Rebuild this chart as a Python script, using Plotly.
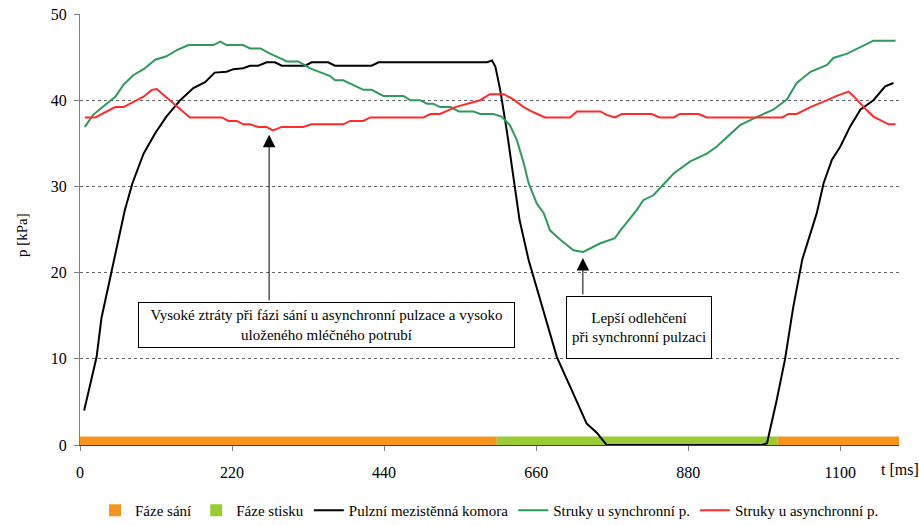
import plotly.graph_objects as go

# ---------------- data ----------------
t_black = [6, 17, 24, 31, 39, 48, 65, 76, 92, 109, 125, 145, 164, 181, 195, 212, 222, 236, 246, 258,
           270, 282, 292, 326, 335, 359, 369, 422, 432, 589, 596, 601, 608, 618, 627, 636, 649, 666,
           690, 709, 733, 748, 762, 987, 994, 1008, 1020, 1032, 1045, 1066, 1076, 1088, 1100, 1114,
           1129, 1148, 1165, 1177]
p_black = [4.0, 7.9, 10.2, 14.7, 17.6, 21.1, 27.3, 30.4, 33.8, 36.2, 38.1, 40.0, 41.4, 42.1, 43.2, 43.3,
           43.6, 43.7, 44.0, 44.0, 44.4, 44.4, 44.0, 44.0, 44.4, 44.4, 44.0, 44.0, 44.4, 44.4, 44.6, 43.9,
           41.2, 36.2, 31.1, 26.1, 21.5, 16.8, 10.2, 6.8, 2.5, 1.4, 0.0, 0.0, 0.2, 5.2, 9.9, 16.0, 21.5,
           26.9, 30.4, 33.1, 34.6, 36.9, 38.9, 40.0, 41.6, 42.0]

t_sync = [7, 19, 34, 51, 63, 77, 92, 109, 125, 140, 157, 193, 203, 212, 236, 246, 261, 275, 294, 299,
          316, 333, 362, 369, 381, 410, 422, 439, 468, 478, 492, 502, 511, 521, 536, 548, 569, 579,
          598, 610, 622, 632, 642, 649, 661, 671, 680, 695, 714, 728, 753, 774, 782, 806, 815, 830,
          859, 883, 907, 921, 955, 975, 1003, 1023, 1037, 1057, 1081, 1090, 1110, 1148, 1180]
p_sync = [36.9, 38.3, 39.3, 40.4, 41.8, 42.9, 43.6, 44.7, 45.1, 45.8, 46.4, 46.4, 46.8, 46.4, 46.4, 46.0,
          46.0, 45.4, 44.7, 44.5, 44.5, 43.7, 42.8, 42.3, 42.3, 41.2, 41.2, 40.5, 40.5, 40.0, 40.0, 39.6,
          39.6, 39.2, 39.2, 38.7, 38.7, 38.4, 38.4, 38.1, 37.1, 35.4, 32.7, 30.4, 28.0, 26.9, 24.9, 23.8,
          22.6, 22.4, 23.4, 24.0, 24.9, 27.3, 28.4, 29.0, 31.5, 32.9, 33.8, 34.6, 37.1, 37.9, 38.9, 40.1,
          42.0, 43.3, 44.1, 44.9, 45.4, 46.9, 46.9]

t_async = [7, 22, 51, 63, 92, 104, 111, 121, 159, 205, 215, 227, 236, 246, 258, 270, 279, 292, 323, 335,
           381, 391, 410, 420, 497, 507, 521, 543, 579, 593, 613, 627, 642, 656, 673, 709, 719, 753,
           762, 774, 784, 827, 839, 859, 868, 895, 907, 1016, 1025, 1037, 1057, 1081, 1095, 1112, 1119,
           1134, 1148, 1158, 1170, 1180]
p_async = [38.0, 38.0, 39.2, 39.2, 40.4, 41.2, 41.3, 40.6, 38.0, 38.0, 37.6, 37.6, 37.2, 37.2, 36.9, 36.9,
           36.5, 36.9, 36.9, 37.2, 37.2, 37.6, 37.6, 38.0, 38.0, 38.4, 38.4, 39.2, 40.0, 40.7, 40.7, 40.1,
           39.2, 38.6, 38.0, 38.0, 38.7, 38.7, 38.3, 38.0, 38.4, 38.4, 38.0, 38.0, 38.4, 38.4, 38.0, 38.0,
           38.4, 38.4, 39.2, 40.0, 40.5, 41.0, 40.5, 39.2, 38.1, 37.7, 37.2, 37.2]

# phases: [start, end] in ms
phase_suction = [(0, 603), (1009, 1185)]
phase_press = [(603, 1009)]
phase_level = 1.0

x_ticks = [0, 220, 440, 660, 880, 1100]
y_ticks = [0, 10, 20, 30, 40, 50]
x_max = 1185

FONT = "Liberation Serif, Times New Roman, serif"

fig = go.Figure()

fig.add_trace(go.Bar(
    x=[(a + b) / 2 for a, b in phase_suction], y=[phase_level] * len(phase_suction),
    width=[b - a for a, b in phase_suction], marker=dict(color="#f7941d", line=dict(width=0)),
    name="Fáze sání"))
fig.add_trace(go.Bar(
    x=[(a + b) / 2 for a, b in phase_press], y=[phase_level] * len(phase_press),
    width=[b - a for a, b in phase_press], marker=dict(color="#99cc33", line=dict(width=0)),
    name="Fáze stisku"))
fig.add_trace(go.Scatter(x=t_black, y=p_black, mode="lines", line=dict(color="#000000", width=2),
                         name="Pulzní mezistěnná komora"))
fig.add_trace(go.Scatter(x=t_sync, y=p_sync, mode="lines", line=dict(color="#2e9a5e", width=2),
                         name="Struky u synchronní p."))
fig.add_trace(go.Scatter(x=t_async, y=p_async, mode="lines", line=dict(color="#ff2a2a", width=2),
                         name="Struky u asynchronní p."))

fig.update_layout(
    width=919, height=525,
    margin=dict(l=80, r=20, t=14, b=80, autoexpand=False),
    plot_bgcolor="white", paper_bgcolor="white",
    barmode="overlay",
    font=dict(family=FONT, size=15, color="black"),
    showlegend=True,
    legend=dict(orientation="h", x=0.5, xanchor="center", y=-0.152, yanchor="middle",
                font=dict(family=FONT, size=15), traceorder="normal", itemwidth=30),
    xaxis=dict(range=[0, x_max], tickvals=x_ticks, ticks="outside", ticklen=5, tickcolor="#808080",
               showline=True, linecolor="#404040", linewidth=1, showgrid=False, zeroline=False,
               ticklabelstandoff=8, tickfont=dict(family=FONT, size=16)),
    yaxis=dict(range=[0, 50], tickvals=y_ticks, ticks="outside", ticklen=5, tickcolor="#808080",
               showline=True, linecolor="#808080", linewidth=1, showgrid=True,
               gridcolor="#666666", griddash="dot", gridwidth=1, zeroline=False,
               ticklabelstandoff=4, tickfont=dict(family=FONT, size=16)),
)

annots = [
    dict(text="p [kPa]", xref="paper", yref="paper", x=-0.0708, y=0.487, textangle=-90,
         xanchor="center", yanchor="middle", showarrow=False, font=dict(family=FONT, size=15)),
    dict(text="t [ms]", xref="paper", yref="paper", x=1.001, y=-0.058, xanchor="center",
         yanchor="middle", showarrow=False, font=dict(family=FONT, size=16)),
    # arrows
    dict(text="", x=273.6, y=36.0, ax=273.6, ay=16.6, xref="x", yref="y", axref="x", ayref="y",
         showarrow=True, arrowhead=2, arrowsize=2.5, arrowwidth=1, arrowcolor="black", standoff=0),
    dict(text="", x=727.6, y=21.7, ax=727.6, ay=17.3, xref="x", yref="y", axref="x", ayref="y",
         showarrow=True, arrowhead=2, arrowsize=2.5, arrowwidth=1, arrowcolor="black", standoff=0),
    # boxes
    dict(text="Vysoké ztráty při fázi sání u asynchronní pulzace a vysoko<br>uloženého mléčného potrubí",
         x=356.8, y=13.9, xref="x", yref="y", showarrow=False, width=375, height=44,
         bordercolor="black", borderwidth=1, borderpad=0, bgcolor="white",
         font=dict(family=FONT, size=15)),
    dict(text="Lepší odlehčení<br>při synchronní pulzaci",
         x=808.4, y=13.6, xref="x", yref="y", showarrow=False, width=144, height=61,
         bordercolor="black", borderwidth=1, borderpad=0, bgcolor="white",
         font=dict(family=FONT, size=15)),
]
fig.update_layout(annotations=annots)

fig.write_html("out.html")
